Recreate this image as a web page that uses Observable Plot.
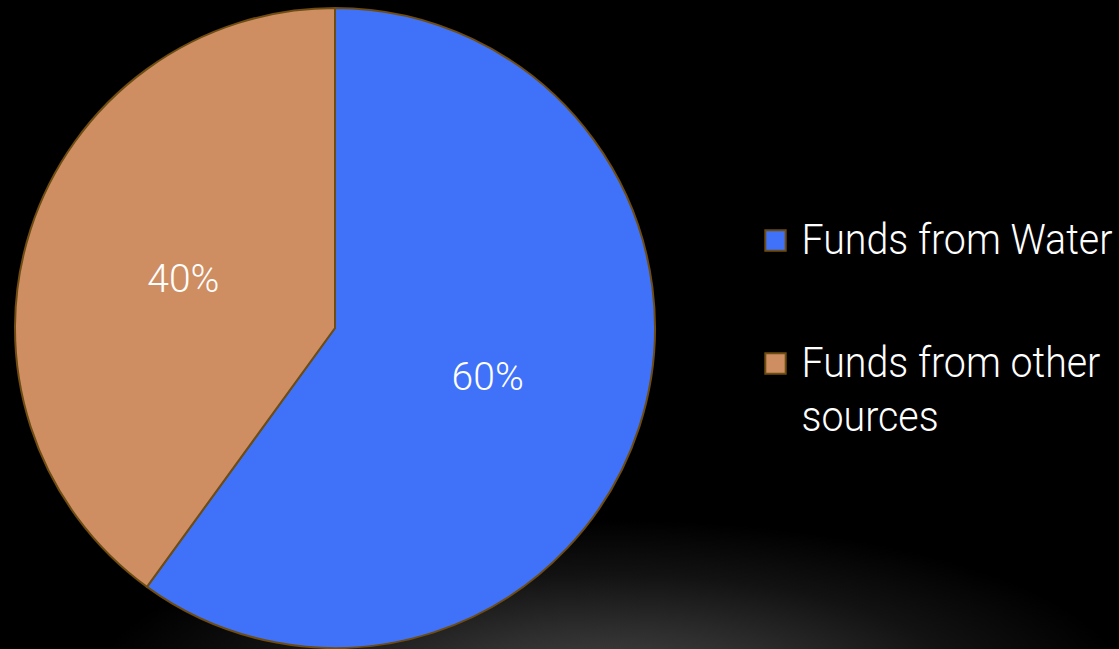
<!DOCTYPE html>
<html>
<head>
<meta charset="utf-8">
<script src="https://cdn.jsdelivr.net/npm/d3@7"></script>
<script src="https://cdn.jsdelivr.net/npm/@observablehq/plot@0.6"></script>
<style>
  html, body { margin: 0; padding: 0; background: #000; }
  #chart svg { display: block; }
</style>
</head>
<body>
<div id="chart"></div>
<script>
// Data
const categories = ["Funds from Water", "Funds from other sources"];
const shares = [60, 40];
const labels = ["60%", "40%"];
const colors = ["#3F72F8", "#CE8E62"];
const legendLines = [["Funds from Water"], ["Funds from other", "sources"]];

const data = categories.map((c, i) => ({category: c, value: shares[i], label: labels[i]}));

// Pie layout (clockwise from 12 o'clock, no sorting)
const pie = d3.pie().value(d => d.value).sort(null);
const arcs = pie(data);
const labelPts = arcs.map(a => {
  const m = (a.startAngle + a.endAngle) / 2;
  return {label: a.data.label, x: 0.5 * Math.sin(m), y: 0.5 * Math.cos(m)};
});

const W = 1119, H = 649;
const cx = 335, cy = 328, R = 320;

const legendRows = legendLines.map((lines, i) => ({
  category: categories[i],
  lines,
  y: i === 0 ? (cy - 240) / R : (cy - 363) / R
}));
const legendX = (775 - cx) / R;
const legendTextX = (801 - cx) / R;
const lineStep = 54 / R;

const pieMark = Plot.dot(arcs, {
  x: () => 0, y: () => 0,
  render(index, scales, values, dims) {
    const ox = scales.x(0), oy = scales.y(0);
    const rr = scales.x(1) - scales.x(0);
    const arcGen = d3.arc().innerRadius(0).outerRadius(rr);
    const g = d3.create("svg:g").attr("transform", `translate(${ox},${oy})`);
    g.selectAll("path").data(arcs).join("path")
      .attr("d", arcGen)
      .attr("fill", (d, i) => colors[i])
      .attr("stroke", "#6E4C12")
      .attr("stroke-width", 2)
      .attr("stroke-linejoin", "round");
    return g.node();
  }
});

const legendText = legendRows.flatMap(r => r.lines.map((t, j) => ({text: t, y: r.y - j * lineStep})));

const chart = Plot.plot({
  width: W, height: H,
  margin: 0,
  x: {type: "linear", domain: [-cx / R, (W - cx) / R], range: [0, W], axis: null},
  y: {type: "linear", domain: [-(H - cy) / R, cy / R], range: [H, 0], axis: null},
  style: {
    background: "radial-gradient(ellipse 520px 170px at 610px 690px, #484848 0%, #2e2e2e 35%, #121212 68%, #000 100%)",
    fontFamily: "Roboto, 'Liberation Sans', sans-serif",
    overflow: "visible"
  },
  marks: [
    pieMark,
    Plot.text(labelPts, {
      x: "x", y: "y", text: "label",
      fill: "white", fontSize: 39, fontWeight: 300,
      textAnchor: "middle", lineAnchor: "middle"
    }),
    Plot.dot(legendRows, {
      x: () => legendX, y: "y",
      symbol: "square", r: 11.5,
      fill: (d, i) => colors[i],
      stroke: "#6E4C12", strokeWidth: 2
    }),
    Plot.text(legendText, {
      x: () => legendTextX, y: "y",
      text: "text",
      fill: "white", fontSize: 43, fontWeight: 300,
      className: "legend-text",
      textAnchor: "start", lineAnchor: "middle"
    })
  ]
});
document.getElementById("chart").appendChild(chart);

// Condense the legend font horizontally (the reference uses a narrow typeface)
const legendNodes = chart.querySelectorAll(".legend-text text");
if (legendNodes.length) {
  const natural = legendNodes[0].getComputedTextLength();
  const k = natural > 0 ? Math.min(1, 311 / natural) : 1;
  legendNodes.forEach(n => {
    const t = n.getAttribute("transform") || "";
    n.setAttribute("transform", `${t} scale(${k},1)`);
  });
}
</script>
</body>
</html>
